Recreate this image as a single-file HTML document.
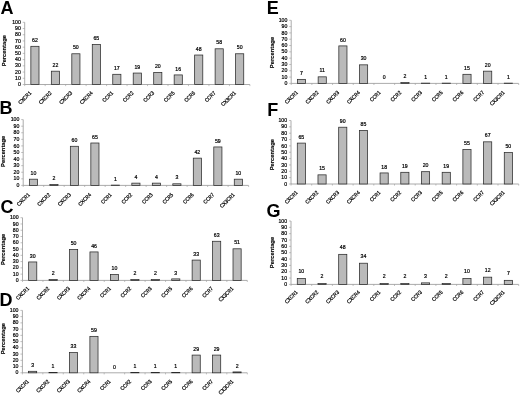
<!DOCTYPE html>
<html><head><meta charset="utf-8"><title>Figure</title>
<style>
html,body{margin:0;padding:0;background:#fff}
svg{display:block;filter:blur(0.3px)}
text{font-family:"Liberation Sans",Arial,sans-serif;fill:#000}
  .L{font-size:18px;font-weight:bold}
.t{font-size:5.2px;stroke:#000;stroke-width:.2px}
.pc{font-size:5.8px;font-weight:bold;stroke:#000;stroke-width:.12px}
.c{font-size:5.0px;stroke:#000;stroke-width:.2px}
.ax{fill:none;stroke:#888;stroke-width:0.7}
.tk{fill:none;stroke:#999;stroke-width:0.6}
.b{fill:#bababa;stroke:#2a2a2a;stroke-width:0.75}
</style></head><body>
<svg width="520" height="395" viewBox="0 0 520 395">
<rect width="520" height="395" fill="#fff"/>
<text class="L" x="0.4" y="13.85">A</text>
<path class="ax" d="M24.7 22.3V84.5H249.9"/>
<text class="t" text-anchor="end" x="20.80" y="86.10">0</text>
<text class="t" text-anchor="end" x="20.80" y="79.88">10</text>
<text class="t" text-anchor="end" x="20.80" y="73.66">20</text>
<text class="t" text-anchor="end" x="20.80" y="67.44">30</text>
<text class="t" text-anchor="end" x="20.80" y="61.22">40</text>
<text class="t" text-anchor="end" x="20.80" y="55.00">50</text>
<text class="t" text-anchor="end" x="20.80" y="48.78">60</text>
<text class="t" text-anchor="end" x="20.80" y="42.56">70</text>
<text class="t" text-anchor="end" x="20.80" y="36.34">80</text>
<text class="t" text-anchor="end" x="20.80" y="30.12">90</text>
<text class="t" text-anchor="end" x="20.80" y="23.90">100</text>
<path class="tk" d="M22.70 84.50H24.7M22.70 78.28H24.7M22.70 72.06H24.7M22.70 65.84H24.7M22.70 59.62H24.7M22.70 53.40H24.7M22.70 47.18H24.7M22.70 40.96H24.7M22.70 34.74H24.7M22.70 28.52H24.7M22.70 22.30H24.7M24.70 84.5v1.6M45.17 84.5v1.6M65.65 84.5v1.6M86.12 84.5v1.6M106.59 84.5v1.6M127.06 84.5v1.6M147.54 84.5v1.6M168.01 84.5v1.6M188.48 84.5v1.6M208.95 84.5v1.6M229.43 84.5v1.6M249.90 84.5v1.6"/>
<text class="pc" text-anchor="middle" transform="translate(6.20,50.60) rotate(-90)">Percentage</text>
<rect class="b" x="30.86" y="46.31" width="8.15" height="38.19"/>
<text class="t" text-anchor="middle" x="34.94" y="41.94">62</text>
<text class="c" text-anchor="end" transform="translate(31.74,93.50) rotate(-45) scale(0.94,1.1)">CXCR1</text>
<rect class="b" x="51.33" y="71.19" width="8.15" height="13.31"/>
<text class="t" text-anchor="middle" x="55.41" y="66.82">22</text>
<text class="c" text-anchor="end" transform="translate(52.21,93.50) rotate(-45) scale(0.94,1.1)">CXCR2</text>
<rect class="b" x="71.81" y="53.77" width="8.15" height="30.73"/>
<text class="t" text-anchor="middle" x="75.88" y="49.40">50</text>
<text class="c" text-anchor="end" transform="translate(72.68,93.50) rotate(-45) scale(0.94,1.1)">CXCR3</text>
<rect class="b" x="92.28" y="44.45" width="8.15" height="40.05"/>
<text class="t" text-anchor="middle" x="96.35" y="40.07">65</text>
<text class="c" text-anchor="end" transform="translate(93.15,93.50) rotate(-45) scale(0.94,1.1)">CXCR4</text>
<rect class="b" x="112.75" y="74.30" width="8.15" height="10.20"/>
<text class="t" text-anchor="middle" x="116.83" y="69.93">17</text>
<text class="c" text-anchor="end" transform="translate(113.63,93.50) rotate(-45) scale(0.94,1.1)">CCR1</text>
<rect class="b" x="133.22" y="73.06" width="8.15" height="11.44"/>
<text class="t" text-anchor="middle" x="137.30" y="68.68">19</text>
<text class="c" text-anchor="end" transform="translate(134.10,93.50) rotate(-45) scale(0.94,1.1)">CCR2</text>
<rect class="b" x="153.70" y="72.44" width="8.15" height="12.06"/>
<text class="t" text-anchor="middle" x="157.77" y="68.06">20</text>
<text class="c" text-anchor="end" transform="translate(154.57,93.50) rotate(-45) scale(0.94,1.1)">CCR3</text>
<rect class="b" x="174.17" y="74.92" width="8.15" height="9.58"/>
<text class="t" text-anchor="middle" x="178.25" y="70.55">16</text>
<text class="c" text-anchor="end" transform="translate(175.05,93.50) rotate(-45) scale(0.94,1.1)">CCR5</text>
<rect class="b" x="194.64" y="55.02" width="8.15" height="29.48"/>
<text class="t" text-anchor="middle" x="198.72" y="50.64">48</text>
<text class="c" text-anchor="end" transform="translate(195.52,93.50) rotate(-45) scale(0.94,1.1)">CCR6</text>
<rect class="b" x="215.12" y="48.80" width="8.15" height="35.70"/>
<text class="t" text-anchor="middle" x="219.19" y="44.42">58</text>
<text class="c" text-anchor="end" transform="translate(215.99,93.50) rotate(-45) scale(0.94,1.1)">CCR7</text>
<rect class="b" x="235.59" y="53.77" width="8.15" height="30.73"/>
<text class="t" text-anchor="middle" x="239.66" y="49.40">50</text>
<text class="c" text-anchor="end" transform="translate(236.46,93.50) rotate(-45) scale(0.94,1.1)">CX3CR1</text>
<text class="L" x="-0.4" y="114.0">B</text>
<path class="ax" d="M23.2 119.6V185.4H248.6"/>
<text class="t" text-anchor="end" x="19.30" y="187.00">0</text>
<text class="t" text-anchor="end" x="19.30" y="180.42">10</text>
<text class="t" text-anchor="end" x="19.30" y="173.84">20</text>
<text class="t" text-anchor="end" x="19.30" y="167.26">30</text>
<text class="t" text-anchor="end" x="19.30" y="160.68">40</text>
<text class="t" text-anchor="end" x="19.30" y="154.10">50</text>
<text class="t" text-anchor="end" x="19.30" y="147.52">60</text>
<text class="t" text-anchor="end" x="19.30" y="140.94">70</text>
<text class="t" text-anchor="end" x="19.30" y="134.36">80</text>
<text class="t" text-anchor="end" x="19.30" y="127.78">90</text>
<text class="t" text-anchor="end" x="19.30" y="121.20">100</text>
<path class="tk" d="M21.20 185.40H23.2M21.20 178.82H23.2M21.20 172.24H23.2M21.20 165.66H23.2M21.20 159.08H23.2M21.20 152.50H23.2M21.20 145.92H23.2M21.20 139.34H23.2M21.20 132.76H23.2M21.20 126.18H23.2M21.20 119.60H23.2M23.20 185.4v1.6M43.69 185.4v1.6M64.18 185.4v1.6M84.67 185.4v1.6M105.16 185.4v1.6M125.65 185.4v1.6M146.15 185.4v1.6M166.64 185.4v1.6M187.13 185.4v1.6M207.62 185.4v1.6M228.11 185.4v1.6M248.60 185.4v1.6"/>
<text class="pc" text-anchor="middle" transform="translate(5.20,151.30) rotate(-90)">Percentage</text>
<rect class="b" x="29.37" y="179.19" width="8.15" height="6.21"/>
<text class="t" text-anchor="middle" x="33.45" y="174.82">10</text>
<text class="c" text-anchor="end" transform="translate(30.25,195.20) rotate(-45) scale(0.94,1.1)">CXCR1</text>
<rect class="b" x="49.86" y="184.46" width="8.15" height="0.94"/>
<text class="t" text-anchor="middle" x="53.94" y="180.08">2</text>
<text class="c" text-anchor="end" transform="translate(50.74,195.20) rotate(-45) scale(0.94,1.1)">CXCR2</text>
<rect class="b" x="70.35" y="146.29" width="8.15" height="39.11"/>
<text class="t" text-anchor="middle" x="74.43" y="141.92">60</text>
<text class="c" text-anchor="end" transform="translate(71.23,195.20) rotate(-45) scale(0.94,1.1)">CXCR3</text>
<rect class="b" x="90.84" y="143.00" width="8.15" height="42.40"/>
<text class="t" text-anchor="middle" x="94.92" y="138.63">65</text>
<text class="c" text-anchor="end" transform="translate(91.72,195.20) rotate(-45) scale(0.94,1.1)">CXCR4</text>
<rect class="b" x="111.33" y="185.12" width="8.15" height="0.28"/>
<text class="t" text-anchor="middle" x="115.41" y="180.74">1</text>
<text class="c" text-anchor="end" transform="translate(112.21,195.20) rotate(-45) scale(0.94,1.1)">CCR1</text>
<rect class="b" x="131.83" y="183.14" width="8.15" height="2.26"/>
<text class="t" text-anchor="middle" x="135.90" y="178.77">4</text>
<text class="c" text-anchor="end" transform="translate(132.70,195.20) rotate(-45) scale(0.94,1.1)">CCR2</text>
<rect class="b" x="152.32" y="183.14" width="8.15" height="2.26"/>
<text class="t" text-anchor="middle" x="156.39" y="178.77">4</text>
<text class="c" text-anchor="end" transform="translate(153.19,195.20) rotate(-45) scale(0.94,1.1)">CCR3</text>
<rect class="b" x="172.81" y="183.80" width="8.15" height="1.60"/>
<text class="t" text-anchor="middle" x="176.88" y="179.43">3</text>
<text class="c" text-anchor="end" transform="translate(173.68,195.20) rotate(-45) scale(0.94,1.1)">CCR5</text>
<rect class="b" x="193.30" y="158.14" width="8.15" height="27.26"/>
<text class="t" text-anchor="middle" x="197.37" y="153.76">42</text>
<text class="c" text-anchor="end" transform="translate(194.17,195.20) rotate(-45) scale(0.94,1.1)">CCR6</text>
<rect class="b" x="213.79" y="146.95" width="8.15" height="38.45"/>
<text class="t" text-anchor="middle" x="217.86" y="142.58">59</text>
<text class="c" text-anchor="end" transform="translate(214.66,195.20) rotate(-45) scale(0.94,1.1)">CCR7</text>
<rect class="b" x="234.28" y="179.19" width="8.15" height="6.21"/>
<text class="t" text-anchor="middle" x="238.35" y="174.82">10</text>
<text class="c" text-anchor="end" transform="translate(235.15,195.20) rotate(-45) scale(0.94,1.1)">CX3CR1</text>
<text class="L" x="0.5" y="212.7">C</text>
<path class="ax" d="M22.5 217.7V280.4H247.3"/>
<text class="t" text-anchor="end" x="18.60" y="282.00">0</text>
<text class="t" text-anchor="end" x="18.60" y="275.73">10</text>
<text class="t" text-anchor="end" x="18.60" y="269.46">20</text>
<text class="t" text-anchor="end" x="18.60" y="263.19">30</text>
<text class="t" text-anchor="end" x="18.60" y="256.92">40</text>
<text class="t" text-anchor="end" x="18.60" y="250.65">50</text>
<text class="t" text-anchor="end" x="18.60" y="244.38">60</text>
<text class="t" text-anchor="end" x="18.60" y="238.11">70</text>
<text class="t" text-anchor="end" x="18.60" y="231.84">80</text>
<text class="t" text-anchor="end" x="18.60" y="225.57">90</text>
<text class="t" text-anchor="end" x="18.60" y="219.30">100</text>
<path class="tk" d="M20.50 280.40H22.5M20.50 274.13H22.5M20.50 267.86H22.5M20.50 261.59H22.5M20.50 255.32H22.5M20.50 249.05H22.5M20.50 242.78H22.5M20.50 236.51H22.5M20.50 230.24H22.5M20.50 223.97H22.5M20.50 217.70H22.5M22.50 280.4v1.6M42.94 280.4v1.6M63.37 280.4v1.6M83.81 280.4v1.6M104.25 280.4v1.6M124.68 280.4v1.6M145.12 280.4v1.6M165.55 280.4v1.6M185.99 280.4v1.6M206.43 280.4v1.6M226.86 280.4v1.6M247.30 280.4v1.6"/>
<text class="pc" text-anchor="middle" transform="translate(5.20,249.40) rotate(-90)">Percentage</text>
<rect class="b" x="28.64" y="261.96" width="8.15" height="18.43"/>
<text class="t" text-anchor="middle" x="32.72" y="257.59">30</text>
<text class="c" text-anchor="end" transform="translate(29.52,289.00) rotate(-45) scale(0.94,1.1)">CXCR1</text>
<rect class="b" x="49.08" y="279.52" width="8.15" height="0.88"/>
<text class="t" text-anchor="middle" x="53.15" y="275.15">2</text>
<text class="c" text-anchor="end" transform="translate(49.95,289.00) rotate(-45) scale(0.94,1.1)">CXCR2</text>
<rect class="b" x="69.52" y="249.42" width="8.15" height="30.97"/>
<text class="t" text-anchor="middle" x="73.59" y="245.05">50</text>
<text class="c" text-anchor="end" transform="translate(70.39,289.00) rotate(-45) scale(0.94,1.1)">CXCR3</text>
<rect class="b" x="89.95" y="251.93" width="8.15" height="28.47"/>
<text class="t" text-anchor="middle" x="94.03" y="247.56">46</text>
<text class="c" text-anchor="end" transform="translate(90.83,289.00) rotate(-45) scale(0.94,1.1)">CXCR4</text>
<rect class="b" x="110.39" y="274.50" width="8.15" height="5.89"/>
<text class="t" text-anchor="middle" x="114.46" y="270.13">10</text>
<text class="c" text-anchor="end" transform="translate(111.26,289.00) rotate(-45) scale(0.94,1.1)">CCR1</text>
<rect class="b" x="130.83" y="279.52" width="8.15" height="0.88"/>
<text class="t" text-anchor="middle" x="134.90" y="275.15">2</text>
<text class="c" text-anchor="end" transform="translate(131.70,289.00) rotate(-45) scale(0.94,1.1)">CCR2</text>
<rect class="b" x="151.26" y="279.52" width="8.15" height="0.88"/>
<text class="t" text-anchor="middle" x="155.34" y="275.15">2</text>
<text class="c" text-anchor="end" transform="translate(152.14,289.00) rotate(-45) scale(0.94,1.1)">CCR3</text>
<rect class="b" x="171.70" y="278.89" width="8.15" height="1.51"/>
<text class="t" text-anchor="middle" x="175.77" y="274.52">3</text>
<text class="c" text-anchor="end" transform="translate(172.57,289.00) rotate(-45) scale(0.94,1.1)">CCR5</text>
<rect class="b" x="192.13" y="260.08" width="8.15" height="20.32"/>
<text class="t" text-anchor="middle" x="196.21" y="255.71">33</text>
<text class="c" text-anchor="end" transform="translate(193.01,289.00) rotate(-45) scale(0.94,1.1)">CCR6</text>
<rect class="b" x="212.57" y="241.27" width="8.15" height="39.13"/>
<text class="t" text-anchor="middle" x="216.65" y="236.90">63</text>
<text class="c" text-anchor="end" transform="translate(213.45,289.00) rotate(-45) scale(0.94,1.1)">CCR7</text>
<rect class="b" x="233.01" y="248.80" width="8.15" height="31.60"/>
<text class="t" text-anchor="middle" x="237.08" y="244.42">51</text>
<text class="c" text-anchor="end" transform="translate(233.88,289.00) rotate(-45) scale(0.94,1.1)">CX3CR1</text>
<text class="L" x="-0.4" y="306.1">D</text>
<path class="ax" d="M22.4 310.4V372.8H247.3"/>
<text class="t" text-anchor="end" x="18.50" y="374.40">0</text>
<text class="t" text-anchor="end" x="18.50" y="368.16">10</text>
<text class="t" text-anchor="end" x="18.50" y="361.92">20</text>
<text class="t" text-anchor="end" x="18.50" y="355.68">30</text>
<text class="t" text-anchor="end" x="18.50" y="349.44">40</text>
<text class="t" text-anchor="end" x="18.50" y="343.20">50</text>
<text class="t" text-anchor="end" x="18.50" y="336.96">60</text>
<text class="t" text-anchor="end" x="18.50" y="330.72">70</text>
<text class="t" text-anchor="end" x="18.50" y="324.48">80</text>
<text class="t" text-anchor="end" x="18.50" y="318.24">90</text>
<text class="t" text-anchor="end" x="18.50" y="312.00">100</text>
<path class="tk" d="M20.40 372.80H22.4M20.40 366.56H22.4M20.40 360.32H22.4M20.40 354.08H22.4M20.40 347.84H22.4M20.40 341.60H22.4M20.40 335.36H22.4M20.40 329.12H22.4M20.40 322.88H22.4M20.40 316.64H22.4M20.40 310.40H22.4M22.40 372.8v1.6M42.85 372.8v1.6M63.29 372.8v1.6M83.74 372.8v1.6M104.18 372.8v1.6M124.63 372.8v1.6M145.07 372.8v1.6M165.52 372.8v1.6M185.96 372.8v1.6M206.41 372.8v1.6M226.85 372.8v1.6M247.30 372.8v1.6"/>
<text class="pc" text-anchor="middle" transform="translate(5.20,338.70) rotate(-90)">Percentage</text>
<rect class="b" x="28.55" y="371.30" width="8.15" height="1.50"/>
<text class="t" text-anchor="middle" x="32.62" y="366.93">3</text>
<text class="c" text-anchor="end" transform="translate(29.42,381.80) rotate(-45) scale(0.94,1.1)">CXCR1</text>
<rect class="b" x="48.99" y="372.55" width="8.15" height="0.25"/>
<text class="t" text-anchor="middle" x="53.07" y="368.18">1</text>
<text class="c" text-anchor="end" transform="translate(49.87,381.80) rotate(-45) scale(0.94,1.1)">CXCR2</text>
<rect class="b" x="69.44" y="352.58" width="8.15" height="20.22"/>
<text class="t" text-anchor="middle" x="73.51" y="348.21">33</text>
<text class="c" text-anchor="end" transform="translate(70.31,381.80) rotate(-45) scale(0.94,1.1)">CXCR3</text>
<rect class="b" x="89.88" y="336.36" width="8.15" height="36.44"/>
<text class="t" text-anchor="middle" x="93.96" y="331.98">59</text>
<text class="c" text-anchor="end" transform="translate(90.76,381.80) rotate(-45) scale(0.94,1.1)">CXCR4</text>
<text class="t" text-anchor="middle" x="114.40" y="368.80">0</text>
<text class="c" text-anchor="end" transform="translate(111.20,381.80) rotate(-45) scale(0.94,1.1)">CCR1</text>
<rect class="b" x="130.78" y="372.55" width="8.15" height="0.25"/>
<text class="t" text-anchor="middle" x="134.85" y="368.18">1</text>
<text class="c" text-anchor="end" transform="translate(131.65,381.80) rotate(-45) scale(0.94,1.1)">CCR2</text>
<rect class="b" x="151.22" y="372.55" width="8.15" height="0.25"/>
<text class="t" text-anchor="middle" x="155.30" y="368.18">1</text>
<text class="c" text-anchor="end" transform="translate(152.10,381.80) rotate(-45) scale(0.94,1.1)">CCR3</text>
<rect class="b" x="171.67" y="372.55" width="8.15" height="0.25"/>
<text class="t" text-anchor="middle" x="175.74" y="368.18">1</text>
<text class="c" text-anchor="end" transform="translate(172.54,381.80) rotate(-45) scale(0.94,1.1)">CCR5</text>
<rect class="b" x="192.11" y="355.08" width="8.15" height="17.72"/>
<text class="t" text-anchor="middle" x="196.19" y="350.70">29</text>
<text class="c" text-anchor="end" transform="translate(192.99,381.80) rotate(-45) scale(0.94,1.1)">CCR6</text>
<rect class="b" x="212.56" y="355.08" width="8.15" height="17.72"/>
<text class="t" text-anchor="middle" x="216.63" y="350.70">29</text>
<text class="c" text-anchor="end" transform="translate(213.43,381.80) rotate(-45) scale(0.94,1.1)">CCR7</text>
<rect class="b" x="233.00" y="371.93" width="8.15" height="0.87"/>
<text class="t" text-anchor="middle" x="237.08" y="367.55">2</text>
<text class="c" text-anchor="end" transform="translate(233.88,381.80) rotate(-45) scale(0.94,1.1)">CX3CR1</text>
<text class="L" x="266.7" y="13.6">E</text>
<path class="ax" d="M291.2 20.3V83.4H518.7"/>
<text class="t" text-anchor="end" x="287.30" y="85.00">0</text>
<text class="t" text-anchor="end" x="287.30" y="78.69">10</text>
<text class="t" text-anchor="end" x="287.30" y="72.38">20</text>
<text class="t" text-anchor="end" x="287.30" y="66.07">30</text>
<text class="t" text-anchor="end" x="287.30" y="59.76">40</text>
<text class="t" text-anchor="end" x="287.30" y="53.45">50</text>
<text class="t" text-anchor="end" x="287.30" y="47.14">60</text>
<text class="t" text-anchor="end" x="287.30" y="40.83">70</text>
<text class="t" text-anchor="end" x="287.30" y="34.52">80</text>
<text class="t" text-anchor="end" x="287.30" y="28.21">90</text>
<text class="t" text-anchor="end" x="287.30" y="21.90">100</text>
<path class="tk" d="M289.20 83.40H291.2M289.20 77.09H291.2M289.20 70.78H291.2M289.20 64.47H291.2M289.20 58.16H291.2M289.20 51.85H291.2M289.20 45.54H291.2M289.20 39.23H291.2M289.20 32.92H291.2M289.20 26.61H291.2M289.20 20.30H291.2M291.20 83.4v1.6M311.88 83.4v1.6M332.56 83.4v1.6M353.25 83.4v1.6M373.93 83.4v1.6M394.61 83.4v1.6M415.29 83.4v1.6M435.97 83.4v1.6M456.65 83.4v1.6M477.34 83.4v1.6M498.02 83.4v1.6M518.70 83.4v1.6"/>
<text class="pc" text-anchor="middle" transform="translate(273.50,52.50) rotate(-90)">Percentage</text>
<rect class="b" x="297.47" y="79.36" width="8.15" height="4.04"/>
<text class="t" text-anchor="middle" x="301.54" y="74.98">7</text>
<text class="c" text-anchor="end" transform="translate(298.34,93.00) rotate(-45) scale(0.94,1.1)">CXCR1</text>
<rect class="b" x="318.15" y="76.83" width="8.15" height="6.57"/>
<text class="t" text-anchor="middle" x="322.22" y="72.46">11</text>
<text class="c" text-anchor="end" transform="translate(319.02,93.00) rotate(-45) scale(0.94,1.1)">CXCR2</text>
<rect class="b" x="338.83" y="45.91" width="8.15" height="37.49"/>
<text class="t" text-anchor="middle" x="342.90" y="41.54">60</text>
<text class="c" text-anchor="end" transform="translate(339.70,93.00) rotate(-45) scale(0.94,1.1)">CXCR3</text>
<rect class="b" x="359.51" y="64.84" width="8.15" height="18.56"/>
<text class="t" text-anchor="middle" x="363.59" y="60.47">30</text>
<text class="c" text-anchor="end" transform="translate(360.39,93.00) rotate(-45) scale(0.94,1.1)">CXCR4</text>
<text class="t" text-anchor="middle" x="384.27" y="79.40">0</text>
<text class="c" text-anchor="end" transform="translate(381.07,93.00) rotate(-45) scale(0.94,1.1)">CCR1</text>
<rect class="b" x="400.88" y="82.51" width="8.15" height="0.89"/>
<text class="t" text-anchor="middle" x="404.95" y="78.14">2</text>
<text class="c" text-anchor="end" transform="translate(401.75,93.00) rotate(-45) scale(0.94,1.1)">CCR2</text>
<rect class="b" x="421.56" y="83.14" width="8.15" height="0.26"/>
<text class="t" text-anchor="middle" x="425.63" y="78.77">1</text>
<text class="c" text-anchor="end" transform="translate(422.43,93.00) rotate(-45) scale(0.94,1.1)">CCR3</text>
<rect class="b" x="442.24" y="83.14" width="8.15" height="0.26"/>
<text class="t" text-anchor="middle" x="446.31" y="78.77">1</text>
<text class="c" text-anchor="end" transform="translate(443.11,93.00) rotate(-45) scale(0.94,1.1)">CCR5</text>
<rect class="b" x="462.92" y="74.31" width="8.15" height="9.09"/>
<text class="t" text-anchor="middle" x="467.00" y="69.94">15</text>
<text class="c" text-anchor="end" transform="translate(463.80,93.00) rotate(-45) scale(0.94,1.1)">CCR6</text>
<rect class="b" x="483.60" y="71.16" width="8.15" height="12.25"/>
<text class="t" text-anchor="middle" x="487.68" y="66.78">20</text>
<text class="c" text-anchor="end" transform="translate(484.48,93.00) rotate(-45) scale(0.94,1.1)">CCR7</text>
<rect class="b" x="504.28" y="83.14" width="8.15" height="0.26"/>
<text class="t" text-anchor="middle" x="508.36" y="78.77">1</text>
<text class="c" text-anchor="end" transform="translate(505.16,93.00) rotate(-45) scale(0.94,1.1)">CX3CR1</text>
<text class="L" x="267.3" y="115.9">F</text>
<path class="ax" d="M291.0 120.5V184.0H518.7"/>
<text class="t" text-anchor="end" x="287.10" y="185.60">0</text>
<text class="t" text-anchor="end" x="287.10" y="179.25">10</text>
<text class="t" text-anchor="end" x="287.10" y="172.90">20</text>
<text class="t" text-anchor="end" x="287.10" y="166.55">30</text>
<text class="t" text-anchor="end" x="287.10" y="160.20">40</text>
<text class="t" text-anchor="end" x="287.10" y="153.85">50</text>
<text class="t" text-anchor="end" x="287.10" y="147.50">60</text>
<text class="t" text-anchor="end" x="287.10" y="141.15">70</text>
<text class="t" text-anchor="end" x="287.10" y="134.80">80</text>
<text class="t" text-anchor="end" x="287.10" y="128.45">90</text>
<text class="t" text-anchor="end" x="287.10" y="122.10">100</text>
<path class="tk" d="M289.00 184.00H291.0M289.00 177.65H291.0M289.00 171.30H291.0M289.00 164.95H291.0M289.00 158.60H291.0M289.00 152.25H291.0M289.00 145.90H291.0M289.00 139.55H291.0M289.00 133.20H291.0M289.00 126.85H291.0M289.00 120.50H291.0M291.00 184.0v1.6M311.70 184.0v1.6M332.40 184.0v1.6M353.10 184.0v1.6M373.80 184.0v1.6M394.50 184.0v1.6M415.20 184.0v1.6M435.90 184.0v1.6M456.60 184.0v1.6M477.30 184.0v1.6M498.00 184.0v1.6M518.70 184.0v1.6"/>
<text class="pc" text-anchor="middle" transform="translate(273.80,154.70) rotate(-90)">Percentage</text>
<rect class="b" x="297.28" y="143.10" width="8.15" height="40.90"/>
<text class="t" text-anchor="middle" x="301.35" y="138.72">65</text>
<text class="c" text-anchor="end" transform="translate(298.15,193.00) rotate(-45) scale(0.94,1.1)">CXCR1</text>
<rect class="b" x="317.98" y="174.85" width="8.15" height="9.15"/>
<text class="t" text-anchor="middle" x="322.05" y="170.47">15</text>
<text class="c" text-anchor="end" transform="translate(318.85,193.00) rotate(-45) scale(0.94,1.1)">CXCR2</text>
<rect class="b" x="338.68" y="127.22" width="8.15" height="56.77"/>
<text class="t" text-anchor="middle" x="342.75" y="122.85">90</text>
<text class="c" text-anchor="end" transform="translate(339.55,193.00) rotate(-45) scale(0.94,1.1)">CXCR3</text>
<rect class="b" x="359.38" y="130.40" width="8.15" height="53.60"/>
<text class="t" text-anchor="middle" x="363.45" y="126.03">85</text>
<text class="c" text-anchor="end" transform="translate(360.25,193.00) rotate(-45) scale(0.94,1.1)">CXCR4</text>
<rect class="b" x="380.07" y="172.94" width="8.15" height="11.05"/>
<text class="t" text-anchor="middle" x="384.15" y="168.57">18</text>
<text class="c" text-anchor="end" transform="translate(380.95,193.00) rotate(-45) scale(0.94,1.1)">CCR1</text>
<rect class="b" x="400.78" y="172.31" width="8.15" height="11.69"/>
<text class="t" text-anchor="middle" x="404.85" y="167.94">19</text>
<text class="c" text-anchor="end" transform="translate(401.65,193.00) rotate(-45) scale(0.94,1.1)">CCR2</text>
<rect class="b" x="421.48" y="171.68" width="8.15" height="12.32"/>
<text class="t" text-anchor="middle" x="425.55" y="167.30">20</text>
<text class="c" text-anchor="end" transform="translate(422.35,193.00) rotate(-45) scale(0.94,1.1)">CCR3</text>
<rect class="b" x="442.18" y="172.31" width="8.15" height="11.69"/>
<text class="t" text-anchor="middle" x="446.25" y="167.94">19</text>
<text class="c" text-anchor="end" transform="translate(443.05,193.00) rotate(-45) scale(0.94,1.1)">CCR5</text>
<rect class="b" x="462.88" y="149.45" width="8.15" height="34.55"/>
<text class="t" text-anchor="middle" x="466.95" y="145.07">55</text>
<text class="c" text-anchor="end" transform="translate(463.75,193.00) rotate(-45) scale(0.94,1.1)">CCR6</text>
<rect class="b" x="483.58" y="141.83" width="8.15" height="42.17"/>
<text class="t" text-anchor="middle" x="487.65" y="137.45">67</text>
<text class="c" text-anchor="end" transform="translate(484.45,193.00) rotate(-45) scale(0.94,1.1)">CCR7</text>
<rect class="b" x="504.28" y="152.62" width="8.15" height="31.38"/>
<text class="t" text-anchor="middle" x="508.35" y="148.25">50</text>
<text class="c" text-anchor="end" transform="translate(505.15,193.00) rotate(-45) scale(0.94,1.1)">CX3CR1</text>
<text class="L" x="266.5" y="216.6">G</text>
<path class="ax" d="M291.0 221.0V284.4H518.7"/>
<text class="t" text-anchor="end" x="287.10" y="286.00">0</text>
<text class="t" text-anchor="end" x="287.10" y="279.66">10</text>
<text class="t" text-anchor="end" x="287.10" y="273.32">20</text>
<text class="t" text-anchor="end" x="287.10" y="266.98">30</text>
<text class="t" text-anchor="end" x="287.10" y="260.64">40</text>
<text class="t" text-anchor="end" x="287.10" y="254.30">50</text>
<text class="t" text-anchor="end" x="287.10" y="247.96">60</text>
<text class="t" text-anchor="end" x="287.10" y="241.62">70</text>
<text class="t" text-anchor="end" x="287.10" y="235.28">80</text>
<text class="t" text-anchor="end" x="287.10" y="228.94">90</text>
<text class="t" text-anchor="end" x="287.10" y="222.60">100</text>
<path class="tk" d="M289.00 284.40H291.0M289.00 278.06H291.0M289.00 271.72H291.0M289.00 265.38H291.0M289.00 259.04H291.0M289.00 252.70H291.0M289.00 246.36H291.0M289.00 240.02H291.0M289.00 233.68H291.0M289.00 227.34H291.0M289.00 221.00H291.0M291.00 284.4v1.6M311.70 284.4v1.6M332.40 284.4v1.6M353.10 284.4v1.6M373.80 284.4v1.6M394.50 284.4v1.6M415.20 284.4v1.6M435.90 284.4v1.6M456.60 284.4v1.6M477.30 284.4v1.6M498.00 284.4v1.6M518.70 284.4v1.6"/>
<text class="pc" text-anchor="middle" transform="translate(273.50,252.50) rotate(-90)">Percentage</text>
<rect class="b" x="297.28" y="278.44" width="8.15" height="5.96"/>
<text class="t" text-anchor="middle" x="301.35" y="273.26">10</text>
<text class="c" text-anchor="end" transform="translate(298.15,292.70) rotate(-45) scale(0.94,1.1)">CXCR1</text>
<rect class="b" x="317.98" y="283.51" width="8.15" height="0.89"/>
<text class="t" text-anchor="middle" x="322.05" y="278.33">2</text>
<text class="c" text-anchor="end" transform="translate(318.85,292.70) rotate(-45) scale(0.94,1.1)">CXCR2</text>
<rect class="b" x="338.68" y="254.34" width="8.15" height="30.06"/>
<text class="t" text-anchor="middle" x="342.75" y="249.17">48</text>
<text class="c" text-anchor="end" transform="translate(339.55,292.70) rotate(-45) scale(0.94,1.1)">CXCR3</text>
<rect class="b" x="359.38" y="263.22" width="8.15" height="21.18"/>
<text class="t" text-anchor="middle" x="363.45" y="258.04">34</text>
<text class="c" text-anchor="end" transform="translate(360.25,292.70) rotate(-45) scale(0.94,1.1)">CXCR4</text>
<rect class="b" x="380.07" y="283.51" width="8.15" height="0.89"/>
<text class="t" text-anchor="middle" x="384.15" y="278.33">2</text>
<text class="c" text-anchor="end" transform="translate(380.95,292.70) rotate(-45) scale(0.94,1.1)">CCR1</text>
<rect class="b" x="400.78" y="283.51" width="8.15" height="0.89"/>
<text class="t" text-anchor="middle" x="404.85" y="278.33">2</text>
<text class="c" text-anchor="end" transform="translate(401.65,292.70) rotate(-45) scale(0.94,1.1)">CCR2</text>
<rect class="b" x="421.48" y="282.87" width="8.15" height="1.53"/>
<text class="t" text-anchor="middle" x="425.55" y="277.70">3</text>
<text class="c" text-anchor="end" transform="translate(422.35,292.70) rotate(-45) scale(0.94,1.1)">CCR3</text>
<rect class="b" x="442.18" y="283.51" width="8.15" height="0.89"/>
<text class="t" text-anchor="middle" x="446.25" y="278.33">2</text>
<text class="c" text-anchor="end" transform="translate(443.05,292.70) rotate(-45) scale(0.94,1.1)">CCR5</text>
<rect class="b" x="462.88" y="278.44" width="8.15" height="5.96"/>
<text class="t" text-anchor="middle" x="466.95" y="273.26">10</text>
<text class="c" text-anchor="end" transform="translate(463.75,292.70) rotate(-45) scale(0.94,1.1)">CCR6</text>
<rect class="b" x="483.58" y="277.17" width="8.15" height="7.23"/>
<text class="t" text-anchor="middle" x="487.65" y="271.99">12</text>
<text class="c" text-anchor="end" transform="translate(484.45,292.70) rotate(-45) scale(0.94,1.1)">CCR7</text>
<rect class="b" x="504.28" y="280.34" width="8.15" height="4.06"/>
<text class="t" text-anchor="middle" x="508.35" y="275.16">7</text>
<text class="c" text-anchor="end" transform="translate(505.15,292.70) rotate(-45) scale(0.94,1.1)">CX3CR1</text>
</svg>
</body></html>
